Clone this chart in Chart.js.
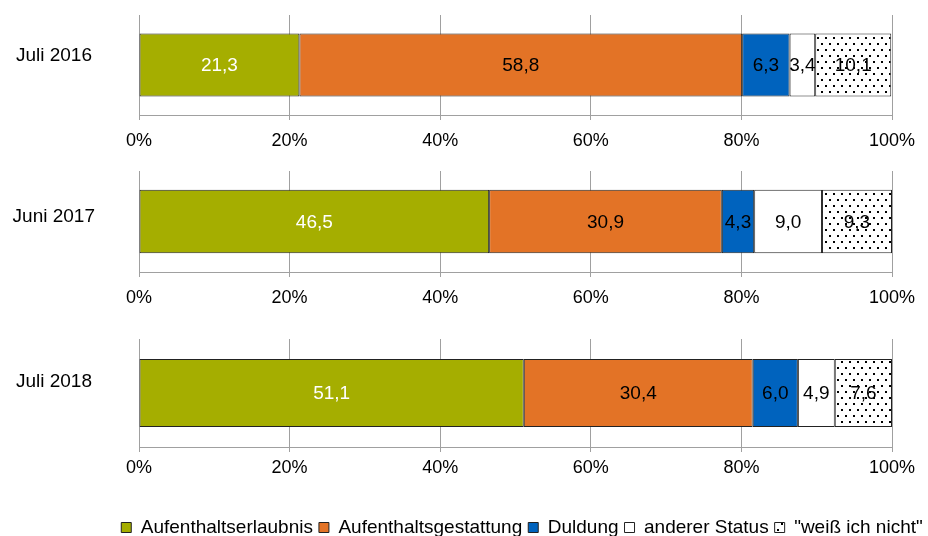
<!DOCTYPE html>
<html lang="de">
<head>
  <meta charset="UTF-8">
  <title>Aufenthaltsstatus</title>
  <script src="https://cdn.jsdelivr.net/npm/chart.js"></script>
  <style>
    html, body { margin: 0; padding: 0; background: #fff; }
    body { width: 928px; height: 536px; position: relative; overflow: hidden; }
    .box { position: absolute; left: 0; width: 928px; }
  </style>
</head>
<body>
  <div class="box" style="top:0;height:155px"><canvas id="c1"></canvas></div>
  <div class="box" style="top:156px;height:156px"><canvas id="c2"></canvas></div>
  <div class="box" style="top:312px;height:236px"><canvas id="c3"></canvas></div>

  <script>
    // Daten (Anteile in %)
    const categories = ['Juli 2016', 'Juni 2017', 'Juli 2018'];
    const seriesNames = ['Aufenthaltserlaubnis', 'Aufenthaltsgestattung', 'Duldung', 'anderer Status', '"weiß ich nicht"'];
    const erlaubnis = [21.3, 46.5, 51.1];
    const gestattung = [58.8, 30.9, 30.4];
    const duldung = [6.3, 4.3, 6.0];
    const anderer = [3.4, 9.0, 4.9];
    const weissNicht = [10.1, 9.3, 7.6];
    const xTicks = [0, 20, 40, 60, 80, 100];

    const FONT = 'Liberation Sans, Arial, sans-serif';

    // Punktmuster für "weiß ich nicht"
    function dotPattern() {
      const c = document.createElement('canvas');
      c.width = 8; c.height = 12;
      const g = c.getContext('2d');
      g.fillStyle = '#fff';
      g.fillRect(0, 0, 8, 12);
      g.fillStyle = '#000';
      g.fillRect(1, 1, 2, 2);
      g.fillRect(5, 7, 2, 2);
      return g.createPattern(c, 'repeat');
    }
    const dots = dotPattern();

    const colors = ['#A5AE00', '#E37326', '#0063BE', '#FFFFFF', dots];
    const textColors = ['#FFFFFF', '#000', '#000', '#000', '#000'];
    const seriesValues = [erlaubnis, gestattung, duldung, anderer, weissNicht];

    // Werte in die Balken schreiben
    const barLabels = {
      id: 'barLabels',
      afterDatasetsDraw(chart) {
        const ctx = chart.ctx;
        ctx.save();
        ctx.font = '19px ' + FONT;
        ctx.textAlign = 'center';
        ctx.textBaseline = 'middle';
        chart.data.datasets.forEach((ds, i) => {
          chart.getDatasetMeta(i).data.forEach((bar, j) => {
            const v = ds.data[j];
            const p = bar.getCenterPoint();
            ctx.fillStyle = textColors[i];
            ctx.fillText(v.toFixed(1).replace('.', ','), p.x, p.y + 1);
          });
        });
        ctx.restore();
      }
    };

    // Legende etwas nach rechts schieben (wie im Original)
    const legendShift = {
      id: 'legendShift',
      afterLayout(chart) {
        if (chart.legend && chart.options.plugins.legend.display) {
          chart.legend.left += 76;
          chart.legend.right += 76;
          chart.legend.top -= 1;
          chart.legend.bottom -= 1;
        }
      }
    };

    function makeChart(id, idx, opts) {
      const datasets = seriesNames.map((name, i) => ({
        label: name,
        data: [seriesValues[i][idx]],
        backgroundColor: colors[i],
        borderColor: '#222',
        borderWidth: 1,
        borderSkipped: false,
        categoryPercentage: 1,
        barPercentage: 0.63
      }));

      return new Chart(document.getElementById(id), {
        type: 'bar',
        data: { labels: [categories[idx]], datasets: datasets },
        options: {
          indexAxis: 'y',
          responsive: true,
          maintainAspectRatio: false,
          animation: false,
          layout: { padding: { top: opts.top, right: 36, left: 0, bottom: 0 } },
          plugins: {
            tooltip: { enabled: false },
            legend: {
              display: !!opts.legend,
              position: 'bottom',
              align: 'center',
              labels: {
                color: '#000',
                font: { family: FONT, size: 19 },
                boxWidth: 10,
                boxHeight: 10,
                padding: 6
              }
            }
          },
          scales: {
            x: {
              stacked: true,
              min: 0,
              max: 100,
              afterBuildTicks(scale) {
                scale.ticks = xTicks.map(v => ({ value: v }));
              },
              afterFit(scale) { scale.height = opts.axisH; },
              ticks: {
                color: '#000',
                font: { family: FONT, size: 18 },
                padding: opts.tickPad,
                maxRotation: 0,
                callback: v => v + '%'
              },
              grid: { color: '#A0A0A0', tickLength: 5, lineWidth: 1 },
              border: { color: '#A0A0A0' }
            },
            y: {
              stacked: true,
              afterFit(scale) {
                scale.width = 139;
                scale.paddingTop = 0;
                scale.paddingBottom = 0;
              },
              ticks: {
                color: '#000',
                font: { family: FONT, size: 19 },
                crossAlign: 'near',
                padding: opts.labelPad,
                labelOffset: opts.labelOffset
              },
              grid: { display: false, drawTicks: false },
              border: { display: false }
            }
          }
        },
        plugins: [barLabels, legendShift]
      });
    }

    makeChart('c1', 0, { top: 15, axisH: 40, tickPad: 10, labelOffset: -9, labelPad: 47 });
    makeChart('c2', 1, { top: 15, axisH: 40, tickPad: 10, labelOffset: -5, labelPad: 44 });
    makeChart('c3', 2, { top: 27, axisH: 66, tickPad: 5, labelOffset: -11, labelPad: 47, legend: true });
  </script>
</body>
</html>
